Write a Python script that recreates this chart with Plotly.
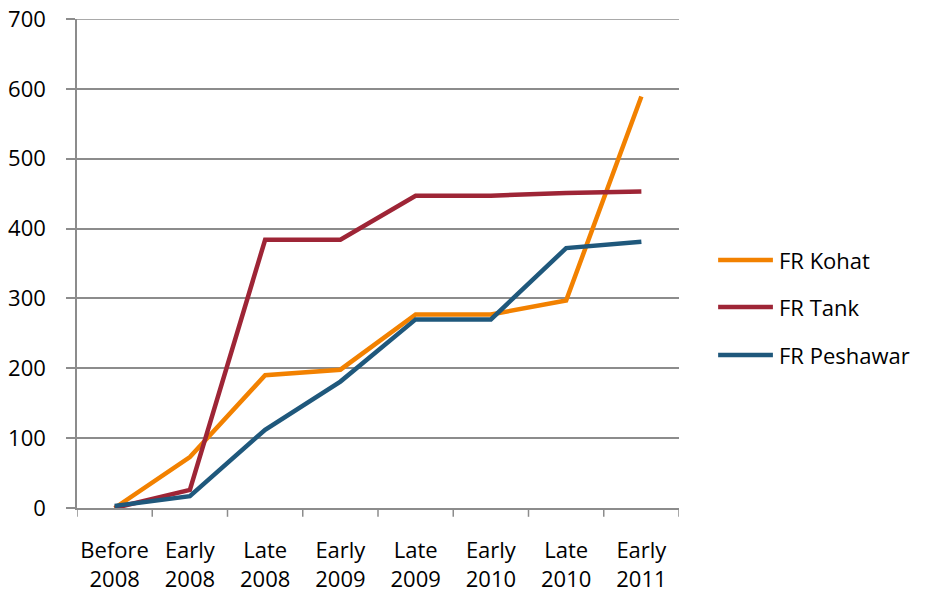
import plotly.graph_objects as go

# Period labels (two-line category names)
periods = ["Before<br>2008", "Early<br>2008", "Late<br>2008", "Early<br>2009",
           "Late<br>2009", "Early<br>2010", "Late<br>2010", "Early<br>2011"]

# Cumulative counts per agency
fr_kohat = [0, 73, 190, 198, 277, 277, 297, 589]
fr_tank = [0, 26, 384, 384, 447, 447, 451, 453]
fr_peshawar = [3, 17, 112, 181, 270, 270, 372, 381]

series_names = ["FR Kohat", "FR Tank", "FR Peshawar"]
series_values = [fr_kohat, fr_tank, fr_peshawar]
series_colors = ["#F28100", "#9E2536", "#1F587C"]

y_ticks = [0, 100, 200, 300, 400, 500, 600, 700]

FONT = "Open Sans"
GRID = "#8C8C8C"

fig = go.Figure()
for name, vals, col in zip(series_names, series_values, series_colors):
    fig.add_trace(go.Scatter(
        x=list(range(len(periods))), y=vals, name=name, mode="lines",
        line=dict(color=col, width=4.5), showlegend=False,
    ))

# Legend drawn to the right of the plot area
legend_y = [0.507, 0.411, 0.313]
for name, col, ly in zip(series_names, series_colors, legend_y):
    fig.add_shape(type="line", xref="paper", yref="paper",
                  x0=1.065, x1=1.156, y0=ly, y1=ly,
                  line=dict(color=col, width=4.5))
    fig.add_annotation(xref="paper", yref="paper", x=1.163, y=ly,
                       text=name, showarrow=False, xanchor="left",
                       yanchor="middle",
                       font=dict(family=FONT, size=22, color="#000000"))

fig.update_layout(
    width=930, height=597,
    margin=dict(l=77, r=251, t=19, b=89),
    paper_bgcolor="white", plot_bgcolor="white",
    font=dict(family=FONT, size=22, color="#000000"),
    xaxis=dict(
        range=[-0.5, len(periods) - 0.5],
        tickmode="array",
        tickvals=list(range(len(periods))),
        ticktext=periods,
        showgrid=False, zeroline=False, automargin=False,
        showline=True, linecolor=GRID, linewidth=1.5,
        ticks="", ticklabelstandoff=22,
    ),
    yaxis=dict(
        range=[0, 700], tickvals=y_ticks, automargin=False,
        showgrid=True, gridcolor=GRID, gridwidth=1.5,
        zeroline=False,
        showline=True, linecolor=GRID, linewidth=1.5,
        ticks="outside", ticklen=9, tickcolor=GRID, tickwidth=1.5,
        ticklabelstandoff=16,
    ),
)

# Top gridline at the upper edge of the plot area
fig.add_shape(type="line", xref="paper", yref="y", x0=0, x1=1,
              y0=y_ticks[-1], y1=y_ticks[-1], line=dict(color=GRID, width=1.5))

# Category boundary tick marks below the x axis
for i in range(len(periods) + 1):
    fig.add_shape(type="line", xref="x", yref="paper",
                  x0=i - 0.5, x1=i - 0.5, y0=0, y1=-0.018,
                  line=dict(color=GRID, width=1.5))

fig.write_html("out.html")
